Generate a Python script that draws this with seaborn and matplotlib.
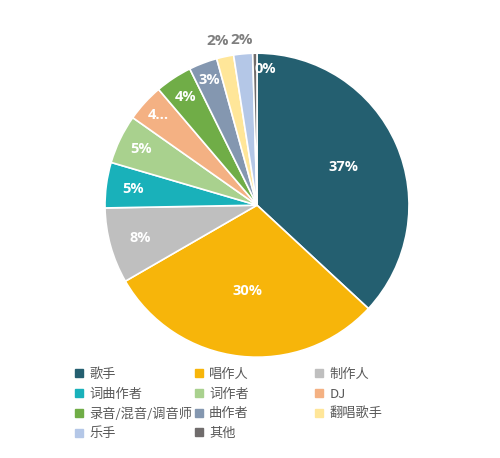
import matplotlib
matplotlib.use("Agg")
import matplotlib.pyplot as plt
from matplotlib.lines import Line2D
import seaborn as sns
import numpy as np

categories = ["歌手", "唱作人", "制作人", "词曲作者", "词作者", "DJ",
              "录音/混音/调音师", "曲作者", "翻唱歌手", "乐手", "其他"]
values = [36.7, 29.6, 8.0, 4.8, 5.2, 4.0, 3.9, 3.0, 1.8, 2.0, 0.45]
pct_labels = ["37%", "30%", "8%", "5%", "5%", "4...", "4%", "3%", "2%", "2%", "0%"]
colors = ["#245F70", "#F7B50A", "#BFBFBF", "#19B1BA", "#A9D18E", "#F4B183",
          "#70AD47", "#8497B0", "#FFE699", "#B4C7E7", "#706C6C"]

# label placement (radius fraction, angle nudge in degrees)
lab_r = [0.62, 0.57, 0.80, 0.82, 0.85, 0.88, 0.85, 0.88, 1.11, 1.09, 0.90]
lab_shift = [0, 0, 0, 0, 0, 0, 0, 0, 1.5, 0, -4.3]
lab_color = ["white"] * 8 + ["#7F7F7F", "#7F7F7F", "white"]
lab_size = [10.5] * 8 + [11, 11, 10.5]

sns.set_theme(style="white")
plt.rcParams["font.family"] = ["Noto Sans CJK SC", "DejaVu Sans"]

fig = plt.figure(figsize=(5.0, 4.58), dpi=100)
fig.patch.set_facecolor("white")
ax = fig.add_axes([0.21, 0.22, 0.608, 0.664])

wedges, _ = ax.pie(values, colors=colors, startangle=90, counterclock=False,
                   radius=1.0,
                   wedgeprops=dict(edgecolor="white", linewidth=1.2))
ax.set_xlim(-1, 1)
ax.set_ylim(-1, 1)
ax.set_aspect("equal")

for i, w in enumerate(wedges):
    th = np.deg2rad((w.theta1 + w.theta2) / 2 + lab_shift[i])
    x, y = lab_r[i] * np.cos(th), lab_r[i] * np.sin(th)
    ax.text(x, y, pct_labels[i], ha="center", va="center",
            color=lab_color[i], fontsize=lab_size[i], fontweight="bold",
            family=["Open Sans", "DejaVu Sans"])

# legend: three columns, row-major order like the reference
def handle(c):
    return Line2D([], [], marker="s", linestyle="none", markersize=5.5,
                  markerfacecolor=c, markeredgecolor=c)

col_x = [0.148, 0.388, 0.628]
for col in range(3):
    idx = list(range(col, len(categories), 3))
    leg = fig.legend([handle(colors[i]) for i in idx],
                     [categories[i] for i in idx],
                     loc="upper left", bbox_to_anchor=(col_x[col], 1 - 368 / 458),
                     frameon=False, fontsize=9.5, handlelength=0.7,
                     handletextpad=0.45, labelspacing=0.5,
                     borderpad=0, borderaxespad=0)
    for t in leg.get_texts():
        t.set_color("#595959")

fig.savefig("out.png", dpi=100, facecolor="white")
